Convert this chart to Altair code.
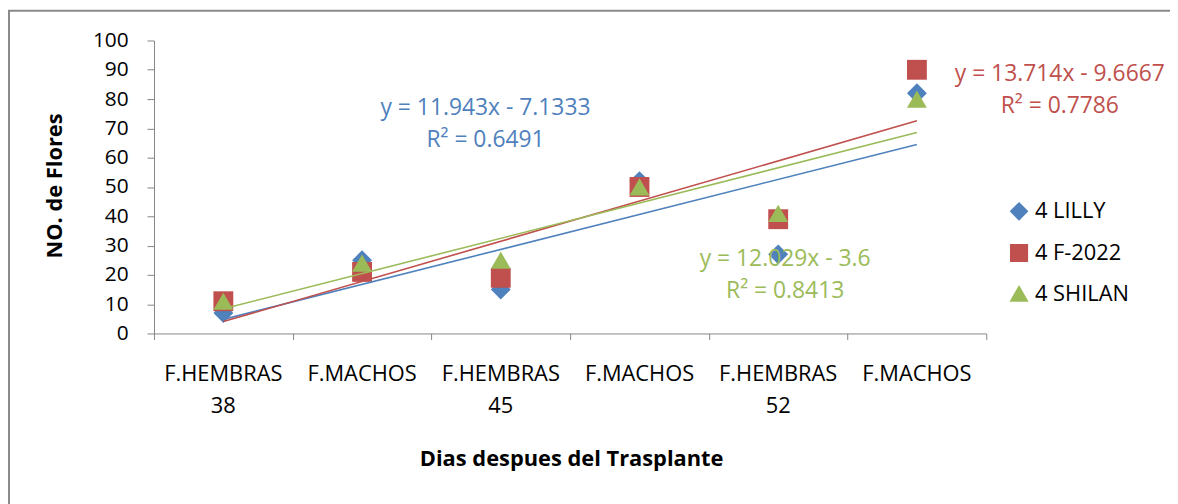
import altair as alt
import pandas as pd

# ---- data ----
categories = ["F.HEMBRAS", "F.MACHOS", "F.HEMBRAS", "F.MACHOS", "F.HEMBRAS", "F.MACHOS"]
days = ["38", "", "45", "", "52", ""]
positions = [1, 2, 3, 4, 5, 6]
series_names = ["4 LILLY", "4 F-2022", "4 SHILAN"]
lilly = [7, 25, 15, 52, 27, 82]
f2022 = [11, 21, 19, 50, 39, 90]
shilan = [11, 24, 25, 50, 41, 80]
series_colors = ["#4F81BD", "#C0504D", "#9BBB59"]
series_shapes = ["diamond", "square", "triangle-up"]
y_ticks = [0, 10, 20, 30, 40, 50, 60, 70, 80, 90, 100]
x_bounds = [0.5, 1.5, 2.5, 3.5, 4.5, 5.5, 6.5]

eq_texts = ["y = 11.943x - 7.1333\nR² = 0.6491",
            "y = 13.714x - 9.6667\nR² = 0.7786",
            "y = 12.029x - 3.6\nR² = 0.8413"]
eq_x = [2.89, 7.03, 5.05]
eq_y = [77.0, 88.6, 25.4]

FONT = "Open Sans"

rows = []
for name, vals in zip(series_names, [lilly, f2022, shilan]):
    for p, v in zip(positions, vals):
        rows.append({"series": name, "pos": p, "value": v})
df = pd.DataFrame(rows)

lab_df = pd.DataFrame({"pos": positions, "cat": categories, "day": days})

x_scale = alt.Scale(domain=[0.5, 6.5], nice=False, zero=False)
y_scale = alt.Scale(domain=[0, 100], nice=False, zero=True)

x_axis = alt.Axis(values=x_bounds, labels=False,
                  tickSize=6, tickColor="#868686", domainColor="#868686",
                  grid=False, title="Dias despues del Trasplante",
                  titleX=420, titleY=126, titleBaseline="middle",
                  titleAlign="center", titleFontSize=22,
                  titleFontWeight="bold", titleColor="#000000")
y_axis = alt.Axis(values=y_ticks, tickCount=11, tickSize=7, labelPadding=19,
                  tickColor="#868686", domainColor="#868686", grid=False,
                  labelFontSize=21, labelColor="#000000", labelOverlap=False,
                  labelBaseline="middle",
                  title="NO. de Flores", titleX=-100, titleY=146,
                  titleAlign="center", titleBaseline="middle",
                  titleFontSize=22, titleFontWeight="bold",
                  titleColor="#000000")


def X(field):
    return alt.X(field, scale=x_scale, axis=x_axis, title="Dias despues del Trasplante")


def Y(field):
    return alt.Y(field, scale=y_scale, axis=y_axis, title="NO. de Flores")


legend = alt.Legend(title=None, orient="none", legendX=860, legendY=161,
                    symbolSize=280, labelFontSize=22, labelColor="#000000",
                    rowPadding=18, labelOffset=5, padding=0)

border = alt.Chart(pd.DataFrame({"a": [0]})).mark_rect(
    filled=False, color="#8a8a8a", strokeWidth=2
).encode(x=alt.value(-146), x2=alt.value(1200), y=alt.value(-30), y2=alt.value(700))

points = alt.Chart(df).mark_point(filled=True, opacity=1, size=400, strokeWidth=0).encode(
    x=X("pos:Q"),
    y=Y("value:Q"),
    color=alt.Color("series:N", scale=alt.Scale(domain=series_names, range=series_colors),
                    legend=legend),
    shape=alt.Shape("series:N", scale=alt.Scale(domain=series_names, range=series_shapes),
                    legend=legend),
)

lines = alt.Chart(df).transform_regression(
    "pos", "value", groupby=["series"], extent=[1, 6]
).mark_line(strokeWidth=1.6).encode(
    x=X("pos:Q"),
    y=Y("value:Q"),
    stroke=alt.Stroke("series:N", scale=alt.Scale(domain=series_names, range=series_colors),
                      legend=None),
)

eq_layers = []
for t, ex, ey, c in zip(eq_texts, eq_x, eq_y, series_colors):
    eq_layers.append(
        alt.Chart(pd.DataFrame({"pos": [ex], "value": [ey], "t": [t]})).mark_text(
            fontSize=23, lineBreak="\n", lineHeight=32, align="center",
            baseline="middle", color=c
        ).encode(x=X("pos:Q"), y=Y("value:Q"), text="t:N")
    )

lab1 = alt.Chart(lab_df).mark_text(fontSize=22, baseline="middle", color="#000000").encode(
    x=X("pos:Q"), y=alt.value(336), text="cat:N"
)
lab2 = alt.Chart(lab_df).mark_text(fontSize=22, baseline="middle", color="#000000").encode(
    x=X("pos:Q"), y=alt.value(368), text="day:N"
)

chart = alt.layer(border, points, lines, *eq_layers, lab1, lab2).properties(
    width=838, height=295,
    autosize=alt.AutoSizeParams(type="none"),
    padding={"left": 147, "top": 31, "right": 185, "bottom": 170},
).configure(font=FONT).configure_view(strokeWidth=0)

chart.save("out.html", embed_options={"renderer": "svg", "actions": False})
